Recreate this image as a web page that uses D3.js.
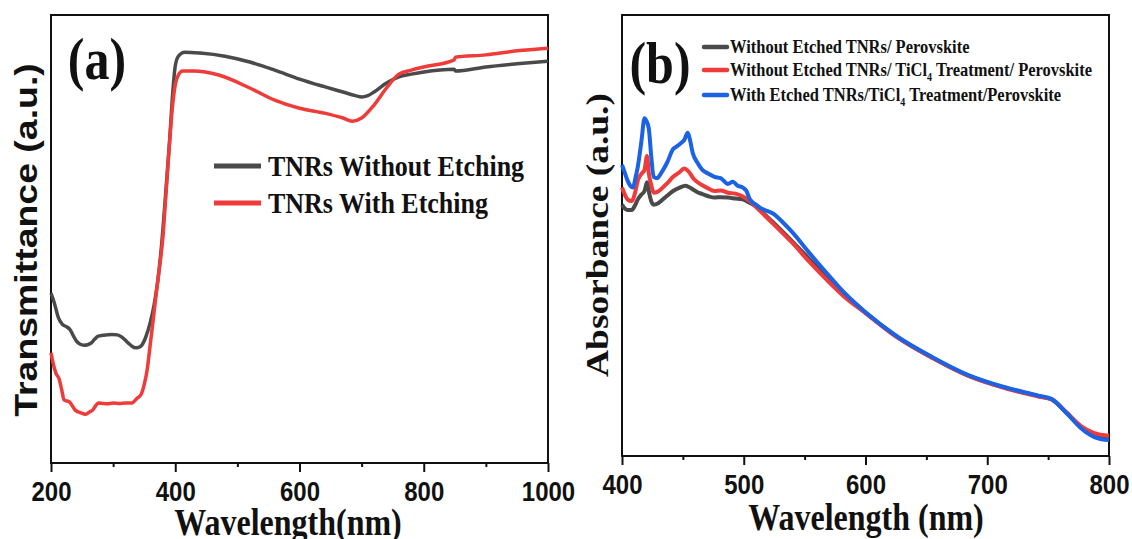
<!DOCTYPE html>
<html>
<head>
<meta charset="utf-8">
<script src="https://cdn.jsdelivr.net/npm/d3@7"></script>
<style>
body{margin:0;background:#fff;}
svg{display:block;}
</style>
</head>
<body>
<script>
(function(){

//---- panel (a) data : wavelength (nm), transmittance (a.u.)
var ticksA = [200, 400, 600, 800, 1000];
var minorA = [300, 500, 700, 900];
var tnrNoEtch = [[200,37.9],[205,35.9],[212,32.4],[218,31.0],[225,30.4],[230,29.9],[236,28.4],[241,27.2],[247,26.5],[253,26.3],[259,26.4],[265,26.8],[270,27.6],[276,28.3],[283,28.5],[290,28.6],[298,28.7],[307,28.6],[313,28.2],[319,27.5],[325,26.7],[330,26.1],[336,25.7],[341,25.8],[345,26.1],[352,27.9],[360,31.5],[366,35.3],[372,40.8],[378,48.7],[385,60.9],[391,72.1],[396,82.8],[400,88.6],[405,90.8],[415,91.7],[440,91.5],[480,90.8],[520,89.5],[560,87.7],[600,85.7],[640,84.0],[670,82.8],[690,82.0],[700,81.7],[710,82.0],[720,82.8],[740,84.8],[760,86.2],[780,86.8],[800,87.3],[849,87.9],[851,87.5],[900,88.4],[950,89.1],[1000,89.7]];
var tnrEtch = [[200,24.6],[204,21.9],[208,20.0],[213,18.8],[217,16.5],[221,14.1],[230,13.6],[235,12.6],[239,11.8],[248,11.2],[256,10.9],[262,11.4],[267,11.8],[272,12.8],[276,13.4],[283,13.3],[290,13.2],[300,13.4],[310,13.3],[320,13.4],[330,13.4],[339,14.5],[345,15.3],[350,17.5],[355,21.0],[360,26.8],[365,32.5],[370,38.6],[375,44.0],[380,50.2],[385,60.0],[390,69.9],[395,78.8],[400,84.4],[405,86.6],[412,87.5],[430,87.5],[470,86.6],[520,83.7],[560,81.0],[600,79.2],[640,78.1],[670,77.0],[685,76.3],[700,77.0],[720,79.9],[740,83.7],[760,86.8],[780,87.7],[800,88.4],[849,90.0],[851,90.6],[900,91.1],[950,92.0],[1000,92.6]];
var legendA = ["TNRs Without Etching", "TNRs With Etching"];

//---- panel (b) data : wavelength (nm), absorbance (a.u.)
var ticksB = [400, 500, 600, 700, 800];
var minorB = [450, 550, 650, 750];
var absNoEtch = [[400,57.0],[402,56.2],[404.5,55.8],[408,55.8],[411,57.0],[413,58.2],[416,59.3],[418.5,60.1],[420.5,62.1],[422.5,59.4],[424,57.8],[426,57.0],[429,57.2],[432,57.8],[437,59.0],[442,60.1],[447,60.8],[452,61.3],[455,61.0],[458,60.5],[462,59.8],[466,59.4],[471,58.9],[476,58.6],[481,58.7],[487,58.6],[493,58.4],[499,58.2],[505,57.4],[510,56.6],[517,54.8],[524,53.0],[540,48.6],[554,44.6],[569,40.3],[583,36.4],[600,32.5],[626,27.0],[655,22.3],[684,18.3],[713,15.6],[742,13.6],[753,12.8],[765,9.8],[777,6.5],[788,4.7],[800,4.0]];
var absNoEtchTi = [[400,60.9],[402,59.5],[404.5,58.2],[408,57.8],[411,60.0],[413,62.5],[416,64.0],[418.5,64.9],[420.5,68.0],[422,64.1],[424,61.5],[426,59.7],[429,59.9],[432,60.5],[437,61.8],[442,63.3],[447,64.3],[451,65.2],[455,64.4],[459,62.8],[464,61.7],[470,60.8],[476,60.1],[481,60.2],[487,59.7],[493,59.5],[499,58.9],[505,57.8],[510,56.5],[514,55.4],[524,52.7],[540,48.3],[554,44.0],[569,39.7],[583,36.0],[600,32.4],[626,26.9],[655,22.2],[684,18.2],[713,15.5],[742,13.5],[753,12.8],[765,9.9],[777,6.8],[788,5.2],[800,4.6]];
var absEtchTi = [[400,66.0],[402,64.5],[404.5,62.5],[407,61.2],[409,60.9],[411,63.0],[413,65.6],[416,71.5],[418.5,76.6],[420,76.0],[422,74.3],[424,68.0],[426,63.3],[429,63.0],[432,64.1],[437,66.5],[442,69.6],[445,70.2],[449,71.1],[451,71.6],[454,73.3],[456,71.5],[458,68.8],[462,66.5],[466,64.9],[471,64.0],[476,63.3],[481,63.0],[487,61.7],[491,62.2],[495,61.3],[499,60.9],[502,60.2],[505,58.2],[510,57.0],[514,56.2],[519,55.6],[524,55.0],[532,53.0],[540,50.7],[554,46.0],[569,41.2],[583,36.9],[600,32.6],[626,27.1],[655,22.4],[684,18.4],[713,15.7],[742,13.7],[753,12.9],[765,9.8],[777,6.3],[788,4.3],[800,3.6]];
var legendB = ["Without Etched TNRs/ Perovskite", "Without Etched TNRs/ TiCl4 Treatment/ Perovskite", "With Etched TNRs/TiCl4 Treatment/Perovskite"];

var gray = "#4a4a4a", red = "#f03b3b", blue = "#1c62e4";
var serif = "'Liberation Serif','Times New Roman',serif",
    sans = "'Liberation Sans',Arial,sans-serif";
var stretch = 1.17; //figure is a bit taller than wide in the original

var svg = d3.select("body").append("svg")
    .attr("width", 1132)
    .attr("height", 539);
svg.append("rect").attr("width", 1132).attr("height", 539).attr("fill", "#fff");

//horizontal text, stretched vertically
function label(g, x, y, txt, size, family, anchor){
    return g.append("text")
        .attr("transform", "translate(" + x + "," + y + ") scale(1," + stretch + ")")
        .attr("text-anchor", anchor || "start")
        .style("font-family", family)
        .style("font-weight", "bold")
        .style("font-size", size + "px")
        .attr("fill", "#111")
        .text(txt);
}

//rotated axis title, stretched along its length
function vlabel(g, x, y, txt, size, family){
    g.append("text")
        .attr("transform", "translate(" + x + "," + y + ") rotate(-90) scale(" + stretch + ",1)")
        .attr("text-anchor", "middle")
        .style("font-family", family)
        .style("font-weight", "bold")
        .style("font-size", size + "px")
        .attr("fill", "#111")
        .text(txt);
}

function drawPanel(p){
    var g = svg.append("g");
    var x = d3.scaleLinear().domain(p.xDomain).range([p.left, p.right]);
    var y = d3.scaleLinear().domain([0, 100]).range([p.bottom, p.top]);

    //minor ticks
    g.append("g")
        .attr("transform", "translate(0," + p.bottom + ")")
        .call(d3.axisBottom(x).tickValues(p.minor).tickSize(4).tickFormat(""))
        .call(function(a){ a.select(".domain").remove(); })
        .selectAll("line").attr("stroke", "#111").attr("stroke-width", 2);

    //major ticks + labels
    var ax = g.append("g")
        .attr("transform", "translate(0," + p.bottom + ")")
        .call(d3.axisBottom(x).tickValues(p.ticks).tickSize(9).tickPadding(6.5).tickFormat(d3.format("d")));
    ax.select(".domain").remove();
    ax.selectAll("line").attr("stroke", "#111").attr("stroke-width", 2);
    ax.selectAll("text")
        .attr("transform", "scale(1," + stretch + ")")
        .attr("fill", "#111")
        .style("font-family", sans)
        .style("font-weight", "bold")
        .style("font-size", "24px");

    //frame
    g.append("rect")
        .attr("x", p.left).attr("y", p.top)
        .attr("width", p.right - p.left).attr("height", p.bottom - p.top)
        .attr("fill", "none").attr("stroke", "#111").attr("stroke-width", 2);

    var line = d3.line()
        .x(function(d){ return x(d[0]); })
        .y(function(d){ return y(d[1]); })
        .curve(d3.curveMonotoneX);

    p.series.forEach(function(s){
        g.append("path")
            .datum(s.data)
            .attr("d", line)
            .attr("fill", "none")
            .attr("stroke", s.color)
            .attr("stroke-width", p.lineWidth)
            .attr("stroke-linejoin", "round");
    });

    return g;
}

//---- panel (a)
var ga = drawPanel({
    xDomain: [200, 1000], left: 51, right: 548, top: 15, bottom: 463,
    ticks: ticksA, minor: minorA, lineWidth: 3.5,
    series: [{data: tnrNoEtch, color: gray}, {data: tnrEtch, color: red}]
});
vlabel(ga, 37, 240, "Transmittance (a.u.)", 32, sans);
label(ga, 288, 535, "Wavelength(nm)", 32, serif, "middle");
label(ga, 97, 79, "(a)", 50, serif, "middle");
[gray, red].forEach(function(c, i){
    var yy = 166 + i * 37;
    ga.append("line").attr("x1", 214).attr("x2", 261).attr("y1", yy).attr("y2", yy)
        .attr("stroke", c).attr("stroke-width", 5);
    label(ga, 268, yy + 10, legendA[i], 26, serif);
});

//---- panel (b)
var gb = drawPanel({
    xDomain: [400, 800], left: 622, right: 1109, top: 15, bottom: 456,
    ticks: ticksB, minor: minorB, lineWidth: 4,
    series: [{data: absNoEtch, color: gray}, {data: absNoEtchTi, color: red}, {data: absEtchTi, color: blue}]
});
vlabel(gb, 608, 235, "Absorbance (a.u.)", 32, serif);
label(gb, 866, 530, "Wavelength (nm)", 32, serif, "middle");
label(gb, 660, 83, "(b)", 50, serif, "middle");
var rowsB = [47, 70, 95];
[gray, red, blue].forEach(function(c, i){
    var yy = rowsB[i];
    gb.append("line").attr("x1", 704).attr("x2", 727).attr("y1", yy).attr("y2", yy)
        .attr("stroke", c).attr("stroke-width", 4.5).attr("stroke-linecap", "round");
    var t = label(gb, 730, yy + 6, "", 16.5, serif);
    var parts = legendB[i].split("Cl4");
    t.append("tspan").text(parts[0] + (parts.length > 1 ? "Cl" : ""));
    if (parts.length > 1){
        t.append("tspan").attr("dy", 4).style("font-size", "10px").text("4");
        t.append("tspan").attr("dy", -4).text(parts[1]);
    }
});

})();
</script>
</body>
</html>
